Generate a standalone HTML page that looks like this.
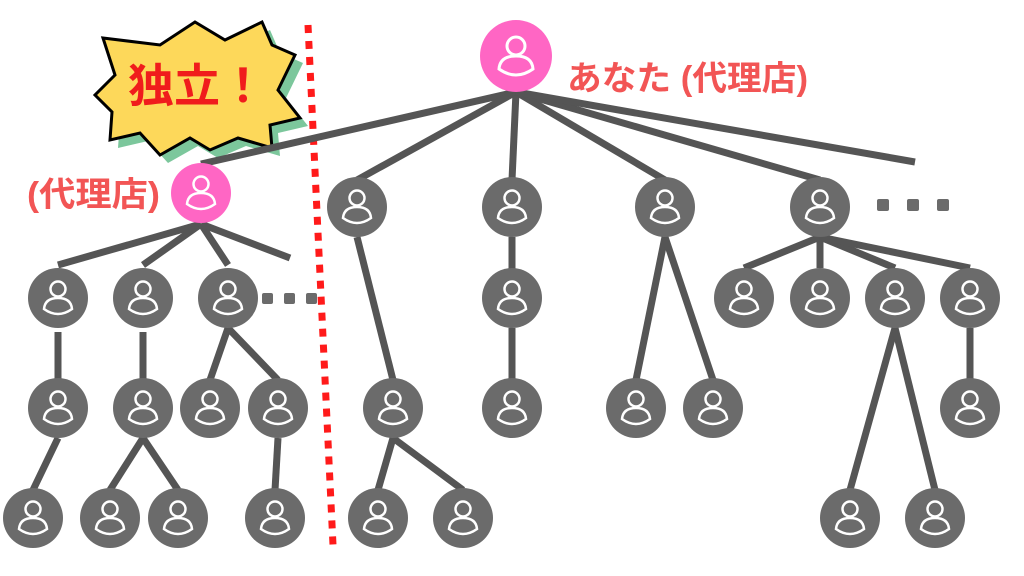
<!DOCTYPE html>
<html><head><meta charset="utf-8"><style>
html,body{margin:0;padding:0;background:#fff;}
svg{display:block}
text{font-family:"Liberation Sans","Noto Sans CJK JP",sans-serif;font-weight:bold}
</style></head><body>
<svg width="1024" height="576" viewBox="0 0 1024 576" xmlns="http://www.w3.org/2000/svg">
<defs>
<g id="p"><circle r="30" fill="#6b6b6b"/><g fill="none" stroke="#fff" stroke-width="2.5"><circle cx="0" cy="-9" r="7.5"/><path d="M-14,11 Q-13,0 0,0 Q13,0 14,11 Q0,21 -14,11 Z"/></g></g>
<g id="pk"><circle r="30" fill="#ff66c4"/><g fill="none" stroke="#fff" stroke-width="2.5"><circle cx="0" cy="-9" r="7.5"/><path d="M-14,11 Q-13,0 0,0 Q13,0 14,11 Q0,21 -14,11 Z"/></g></g>
<g id="pkb"><circle r="36" fill="#ff66c4"/><g fill="none" stroke="#fff" stroke-width="3"><circle cx="0" cy="-10" r="9"/><path d="M-17,13 Q-16,0 0,0 Q16,0 17,13 Q0,25 -17,13 Z"/></g></g>
</defs>
<polygon transform="translate(8,8)" fill="#7cc79c" points="103,38 160,45 195,22 225,40 262,22 272,45 295,55 278,90 300,118 270,125 272,148 238,138 210,150 190,138 160,155 140,133 110,140 112,112 95,95 115,75"/>
<polygon fill="#fdd85a" stroke="#000" stroke-width="3" points="103,38 160,45 195,22 225,40 262,22 272,45 295,55 278,90 300,118 270,125 272,148 238,138 210,150 190,138 160,155 140,133 110,140 112,112 95,95 115,75"/>
<text x="197" y="102" font-size="46" fill="#f01c1c" text-anchor="middle">独立！</text>
<line x1="308" y1="25" x2="333" y2="545" stroke="#ff1a1a" stroke-width="7" stroke-dasharray="8,8"/>
<g stroke="#555" stroke-width="7">
<line x1="516" y1="92" x2="201" y2="164"/>
<line x1="516" y1="92" x2="357" y2="180"/>
<line x1="516" y1="92" x2="512" y2="180"/>
<line x1="516" y1="92" x2="665" y2="180"/>
<line x1="516" y1="92" x2="820" y2="180"/>
<line x1="516" y1="92" x2="915" y2="162"/>
<line x1="201" y1="224" x2="58" y2="265"/>
<line x1="201" y1="224" x2="143" y2="265"/>
<line x1="201" y1="224" x2="228" y2="265"/>
<line x1="201" y1="224" x2="290" y2="258"/>
<line x1="58" y1="332" x2="58" y2="380"/>
<line x1="143" y1="332" x2="143" y2="380"/>
<line x1="58" y1="438" x2="33" y2="490"/>
<line x1="143" y1="438" x2="110" y2="490"/>
<line x1="143" y1="438" x2="178" y2="490"/>
<line x1="228" y1="328" x2="210" y2="380"/>
<line x1="228" y1="328" x2="278" y2="380"/>
<line x1="278" y1="438" x2="275" y2="490"/>
<line x1="357" y1="237" x2="393" y2="380"/>
<line x1="393" y1="438" x2="378" y2="490"/>
<line x1="393" y1="438" x2="463" y2="490"/>
<line x1="512" y1="237" x2="512" y2="270"/>
<line x1="512" y1="328" x2="512" y2="380"/>
<line x1="665" y1="237" x2="636" y2="380"/>
<line x1="665" y1="237" x2="713" y2="380"/>
<line x1="820" y1="237" x2="744" y2="268"/>
<line x1="820" y1="237" x2="820" y2="268"/>
<line x1="820" y1="237" x2="895" y2="268"/>
<line x1="820" y1="237" x2="970" y2="268"/>
<line x1="895" y1="328" x2="850" y2="490"/>
<line x1="895" y1="328" x2="935" y2="490"/>
<line x1="970" y1="328" x2="970" y2="380"/>
</g>
<use href="#pkb" x="516" y="56"/>
<use href="#pk" x="201" y="193"/>
<use href="#p" x="357" y="207"/><use href="#p" x="512" y="207"/><use href="#p" x="665" y="207"/><use href="#p" x="820" y="207"/>
<use href="#p" x="58" y="298"/><use href="#p" x="143" y="298"/><use href="#p" x="228" y="298"/>
<use href="#p" x="58" y="408"/><use href="#p" x="143" y="408"/><use href="#p" x="210" y="408"/><use href="#p" x="278" y="408"/>
<use href="#p" x="33" y="518"/><use href="#p" x="110" y="518"/><use href="#p" x="178" y="518"/><use href="#p" x="275" y="518"/>
<use href="#p" x="393" y="408"/><use href="#p" x="378" y="518"/><use href="#p" x="463" y="518"/>
<use href="#p" x="512" y="298"/><use href="#p" x="512" y="408"/>
<use href="#p" x="636" y="408"/><use href="#p" x="713" y="408"/>
<use href="#p" x="744" y="298"/><use href="#p" x="820" y="298"/><use href="#p" x="895" y="298"/><use href="#p" x="970" y="298"/>
<use href="#p" x="970" y="408"/><use href="#p" x="850" y="518"/><use href="#p" x="935" y="518"/>
<g fill="#6b6b6b">
<rect x="262" y="293" width="11" height="11" rx="2"/><rect x="284" y="293" width="11" height="11" rx="2"/><rect x="306" y="293" width="11" height="11" rx="2"/>
<rect x="877" y="199" width="12" height="12" rx="2"/><rect x="907" y="199" width="12" height="12" rx="2"/><rect x="937" y="199" width="12" height="12" rx="2"/>
</g>
<text x="567" y="90" font-size="34" fill="#f25555" textLength="241" lengthAdjust="spacingAndGlyphs">あなた (代理店)</text>
<text x="27" y="206" font-size="34" fill="#f25555" textLength="133" lengthAdjust="spacingAndGlyphs">(代理店)</text>
</svg>
</body></html>
